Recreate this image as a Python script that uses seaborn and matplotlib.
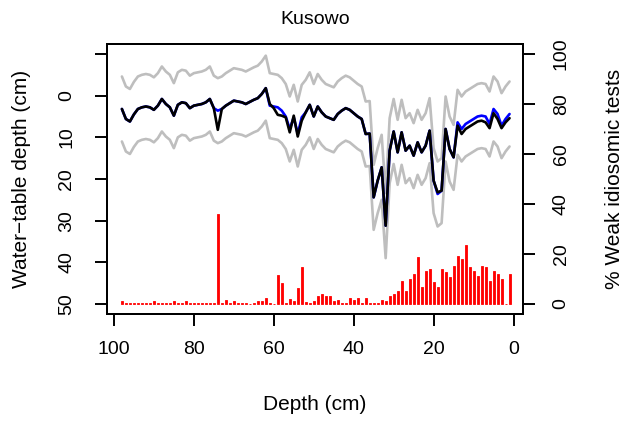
import numpy as np
import seaborn as sns
import matplotlib
matplotlib.use("Agg")
import matplotlib.pyplot as plt

# core depth (cm), one sample per cm
depth = np.arange(98, 0, -1)

# reconstructed water-table depth (black) and the alternative model (blue)
wtd_black = [3.2, 5.6, 6.2, 4.5, 3.2, 2.8, 2.6, 2.8, 3.4, 2.4,
             0.8, 2.0, 2.8, 4.8, 2.2, 1.6, 1.8, 3.0, 2.4, 2.2,
             2.0, 1.6, 0.8, 3.0, 8.2, 3.2, 2.4, 1.8, 1.2, 1.4,
             1.6, 2.0, 1.5, 1.0, 0.6, -0.4, -1.8, 2.0, 3.0, 4.6,
             4.8, 5.2, 8.8, 4.8, 9.8, 6.0, 4.0, 2.2, 5.0, 2.6,
             4.0, 5.0, 5.4, 5.8, 4.4, 3.6, 3.0, 3.4, 4.2, 5.0,
             5.6, 9.2, 9.1, 24.4, 20.4, 17.2, 31.2, 13.2, 8.6, 13.6,
             8.8, 13.2, 12.0, 14.4, 11.2, 13.6, 12.0, 8.4, 20.4, 23.2,
             22.8, 8.0, 12.8, 14.8, 7.2, 9.2, 8.0, 7.4, 6.8, 6.2,
             6.0, 6.4, 7.8, 4.2, 5.6, 7.8, 6.4, 5.4]

wtd_blue = [3.2, 5.6, 6.2, 4.5, 3.2, 2.8, 2.6, 2.8, 3.4, 2.4,
            0.8, 2.0, 2.8, 4.8, 2.2, 1.6, 1.8, 3.0, 2.4, 2.2,
            2.0, 1.6, 0.8, 3.0, 3.6, 3.2, 2.4, 1.8, 1.2, 1.4,
            1.6, 2.0, 1.5, 1.0, 0.6, -0.4, -1.8, 2.4, 2.6, 2.8,
            3.6, 5.0, 8.0, 5.2, 9.2, 5.2, 4.0, 2.2, 5.0, 2.6,
            4.0, 5.0, 5.4, 5.8, 4.4, 3.6, 3.0, 3.4, 4.2, 5.0,
            5.6, 9.2, 9.1, 24.4, 20.4, 17.2, 31.2, 13.2, 8.6, 13.6,
            8.8, 13.2, 12.0, 14.4, 11.2, 13.6, 12.0, 8.4, 20.4, 23.6,
            22.8, 8.0, 12.8, 14.8, 6.4, 8.0, 6.8, 6.2, 5.6, 5.0,
            4.8, 5.0, 6.8, 3.2, 4.4, 7.2, 5.6, 4.4]

# prediction error (cm) used for the grey band
rmsep = 7.8

# % weak idiosomic tests (red bars)
pct_weak = [1.0, 0.5, 0.5, 0.5, 0.5, 0.5, 0.5, 0.5, 1.0, 0.5,
            0.5, 0.5, 0.5, 1.0, 0.5, 0.5, 1.0, 0.5, 0.5, 0.5,
            0.5, 0.5, 0.5, 0.5, 36.0, 0.5, 1.5, 0.5, 1.0, 0.5,
            0.5, 0.5, 0.0, 0.5, 1.2, 1.2, 2.5, 0.5, 0.0, 11.6,
            8.2, 0.5, 2.1, 1.0, 6.3, 14.9, 0.8, 0.5, 1.2, 3.2,
            3.9, 3.2, 3.2, 1.2, 1.7, 0.5, 0.5, 2.5, 1.7, 2.5,
            0.5, 2.5, 0.5, 0.5, 0.5, 1.7, 1.2, 3.2, 3.9, 5.2,
            9.2, 5.2, 9.9, 11.9, 18.6, 6.6, 13.3, 13.9, 8.6, 6.6,
            13.9, 12.6, 10.6, 15.3, 19.3, 17.9, 23.6, 14.6, 13.3, 11.2,
            15.3, 14.6, 9.2, 13.3, 11.9, 9.9, 0.0, 11.9]

yticks_left = [-10, 0, 10, 20, 30, 40, 50]
ylabels_left = ["", "0", "10", "20", "30", "40", "50"]
yticks_right = [0, 20, 40, 60, 80, 100]
xticks = [100, 80, 60, 40, 20, 0]

sns.set_style("ticks")
plt.rcParams["font.family"] = ["Liberation Sans", "DejaVu Sans"]
plt.rcParams["axes.linewidth"] = 1.4
for k in ["text.color", "axes.labelcolor", "xtick.color", "ytick.color", "axes.edgecolor"]:
    plt.rcParams[k] = "black"

fs_tick = 14
fs_lab = 15

fig = plt.figure(figsize=(6.27, 4.21), dpi=100)
ax = fig.add_axes([0.1702, 0.2542, 0.6635, 0.6413])

blue = np.array(wtd_blue)
sns.lineplot(x=depth, y=blue - rmsep, ax=ax, color="#BEBEBE", lw=1.9, sort=False)
sns.lineplot(x=depth, y=blue + rmsep, ax=ax, color="#BEBEBE", lw=1.9, sort=False)
sns.lineplot(x=depth, y=blue, ax=ax, color="#0000FF", lw=1.9, sort=False)
sns.lineplot(x=depth, y=wtd_black, ax=ax, color="black", lw=1.9, sort=False)

ax.set_xlim(101.8, -2.3)
ax.set_ylim(52.4, -12.4)
ax.set_xticks(xticks)
ax.set_xticklabels([str(v) for v in xticks], fontsize=fs_tick)
ax.set_yticks(yticks_left)
ax.set_yticklabels(ylabels_left, fontsize=fs_tick, rotation=90,
                   rotation_mode="anchor", ha="center", va="bottom")
ax.tick_params(axis="both", length=8.6, width=1.4)
ax.tick_params(axis="x", pad=11)
ax.tick_params(axis="y", pad=14)

ax.set_title("Kusowo", fontsize=fs_tick, y=1.089, va="center", pad=0)
ax.set_xlabel("Depth (cm)", fontsize=fs_lab)
ax.xaxis.set_label_coords(0.5, -0.337)
ax.xaxis.label.set_va("center")
ax.set_ylabel("Water\u2212table depth (cm)", fontsize=fs_lab)
ax.yaxis.set_label_coords(-0.2037, 0.5)
ax.yaxis.label.set_va("center")

ax2 = ax.twinx()
ax2.bar(depth, pct_weak, width=0.5, color="#FF0000", edgecolor="#FF0000", linewidth=0.6)
ax2.set_ylim(-4, 104)
ax2.set_yticks(yticks_right)
ax2.set_yticklabels([str(v) for v in yticks_right], fontsize=fs_tick, rotation=90,
                    rotation_mode="anchor", ha="center", va="top")
ax2.tick_params(axis="y", length=8.6, width=1.4, pad=13)
ax2.set_ylabel("% Weak idiosomic tests", fontsize=fs_lab)
ax2.yaxis.set_label_coords(1.2198, 0.5)
ax2.yaxis.label.set_va("center")

for a in (ax, ax2):
    for s in a.spines.values():
        s.set_linewidth(1.4)

fig.savefig("out.png", dpi=100)
